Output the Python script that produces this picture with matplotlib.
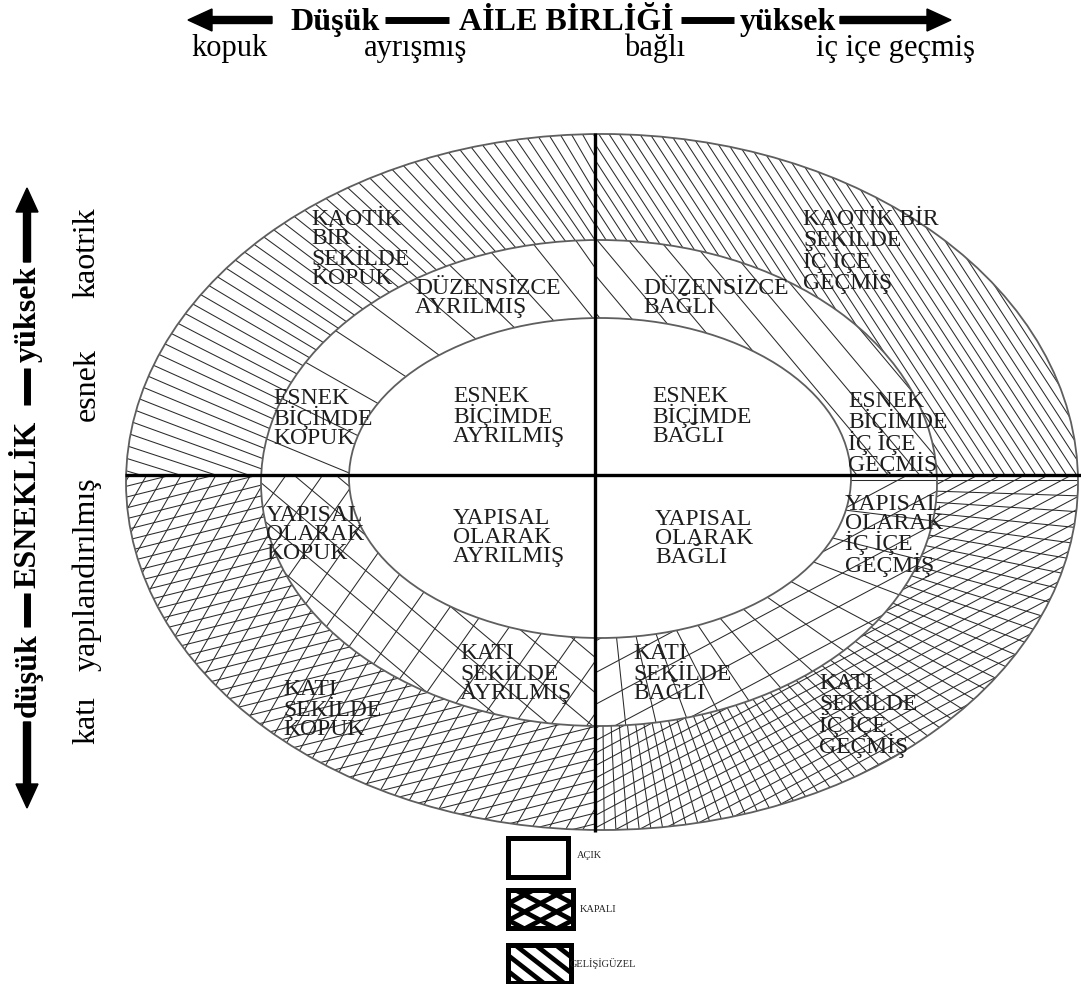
import numpy as np
import matplotlib
matplotlib.use('Agg')
import matplotlib.pyplot as plt
from matplotlib.patches import Ellipse, Rectangle, FancyArrow, PathPatch
from matplotlib.collections import LineCollection
from matplotlib.path import Path
from matplotlib.transforms import Bbox, TransformedBbox

# ---------------- data ----------------
cohesion_levels = ['kopuk', 'ayrışmış', 'bağlı', 'iç içe geçmiş']
flexibility_levels = ['kaotrik', 'esnek', 'yapılandırılmış', 'katı']   # top -> bottom
cohesion_title = ['Düşük', 'AİLE BİRLİĞİ', 'yüksek']
flexibility_title = ['yüksek', 'ESNEKLİK', 'düşük']                  # top -> bottom
cell_labels = [
    ['KAOTİK\nBİR\nŞEKİLDE\nKOPUK', 'DÜZENSİZCE\nAYRILMIŞ', 'DÜZENSİZCE\nBAĞLI', 'KAOTİK BİR\nŞEKİLDE\nİÇ İÇE\nGEÇMİŞ'],
    ['ESNEK\nBİÇİMDE\nKOPUK', 'ESNEK\nBİÇİMDE\nAYRILMIŞ', 'ESNEK\nBİÇİMDE\nBAĞLI', 'ESNEK\nBİÇİMDE\nİÇ İÇE\nGEÇMİŞ'],
    ['YAPISAL\nOLARAK\nKOPUK', 'YAPISAL\nOLARAK\nAYRILMIŞ', 'YAPISAL\nOLARAK\nBAĞLI', 'YAPISAL\nOLARAK\nİÇ İÇE\nGEÇMİŞ'],
    ['KATI\nŞEKİLDE\nKOPUK', 'KATI\nŞEKİLDE\nAYRILMIŞ', 'KATI\nŞEKİLDE\nBAĞLI', 'KATI\nŞEKİLDE\nİÇ İÇE\nGEÇMİŞ'],
]
legend_labels = ['AÇIK', 'KAPALI', 'GELİŞİGÜZEL']

# ---------------- layout (pixels) ----------------
W, H = 1081, 984
VX, HY = 595, 475
outer = (602, 482, 476, 348)
middle = (599, 483, 338, 243)
inner = (600, 478, 251, 160)
cell_pos = [
    [(311, 209), (415, 278), (643, 278), (803, 209)],
    [(273, 388), (453, 386), (652, 386), (848, 391)],
    [(266, 505), (453, 508), (655, 509), (845, 494)],
    [(283, 679), (460, 643), (633, 643), (819, 673)],
]
coh_x = [230, 416, 655, 895]
flex_y = [253, 385, 574, 720]
title_x = [335, 566, 788]
ftitle_y = [314, 504, 675]

SERIF = ['Liberation Serif', 'DejaVu Serif']
plt.rcParams['font.family'] = SERIF

fig = plt.figure(figsize=(W / 100, H / 100), dpi=100)
ax = fig.add_axes([0, 0, 1, 1])
ax.set_xlim(0, W)
ax.set_ylim(H, 0)
ax.axis('off')


def ell_pts(cx, cy, a, b, n=500):
    t = np.linspace(0, 2 * np.pi, n)
    return np.c_[cx + a * np.cos(t), cy + b * np.sin(t)]


def ring_path(out_e, in_e):
    o = ell_pts(*out_e)
    i = ell_pts(*in_e)[::-1]
    verts = np.concatenate([o, i])
    codes = np.full(len(verts), Path.LINETO)
    codes[0] = Path.MOVETO
    codes[len(o)] = Path.MOVETO
    return Path(verts, codes)


def parallel(angle, spacing, cx=600, cy=480, L=1400):
    a = np.deg2rad(angle)
    d = np.array([np.cos(a), np.sin(a)])
    n = np.array([-d[1], d[0]])
    segs = []
    for k in np.arange(-L, L, spacing):
        p = np.array([cx, cy]) + k * n
        segs.append([p - L * d, p + L * d])
    return segs


def radial(fx, fy, a0, a1, step, L=1400):
    segs = []
    for t in np.deg2rad(np.arange(a0, a1, step)):
        segs.append([(fx, fy), (fx + L * np.cos(t), fy + L * np.sin(t))])
    return segs


def add_hatch(segs, path, quad, lw=0.75, color='#2a2a2a'):
    lc = LineCollection(segs, colors=color, linewidths=lw, zorder=2)
    ax.add_collection(lc, autolim=False)
    lc.set_clip_path(PathPatch(path, transform=ax.transData))
    lc.set_clip_box(TransformedBbox(Bbox.from_extents(*quad), ax.transData))


outer_ring = ring_path(outer, middle)
mid_ring = ring_path(middle, inner)
TL = (0, 0, VX, HY)
TR = (VX, 0, W, HY)
BL = (0, HY, VX, H)
BR = (VX, HY, W, H)

# top-left
add_hatch(radial(900, 700, -172, -104, 0.85), outer_ring, TL)
add_hatch(radial(900, 700, -172, -104, 3.6), mid_ring, TL)
# top-right
add_hatch(parallel(57, 8.6), outer_ring, TR)
add_hatch(parallel(50, 24), mid_ring, TR)
# bottom-left
add_hatch(parallel(-14, 10.5), outer_ring, BL)
add_hatch(parallel(-60, 15), outer_ring, BL)
add_hatch(parallel(40, 27), mid_ring, BL)
add_hatch(parallel(-55, 30), mid_ring, BL)
# bottom-right
add_hatch(parallel(-28, 11), outer_ring, BR)
add_hatch(radial(600, 480, 0, 91, 1.9), outer_ring, BR)
add_hatch(parallel(-28, 28), mid_ring, BR)
add_hatch(radial(600, 480, 0, 91, 7), mid_ring, BR)

# ellipse outlines
for (cx, cy, a, b) in (outer, middle, inner):
    ax.add_patch(Ellipse((cx, cy), 2 * a, 2 * b, fill=False, ec='#5e5e5e', lw=1.3, zorder=3))

# axis lines
ax.plot([VX, VX], [133, 832], color='black', lw=2.4, solid_capstyle='butt', zorder=4)
ax.plot([125, W], [HY, HY], color='black', lw=2.4, solid_capstyle='butt', zorder=4)

# cell labels
for r in range(4):
    for c in range(4):
        x, y = cell_pos[r][c]
        ax.text(x, y, cell_labels[r][c], ha='left', va='top', fontsize=17, linespacing=0.86,
                color='#1e1e1e', zorder=5)

# ---- top header ----
ay = 20
ax.add_patch(FancyArrow(272, ay, -60, 0, width=7, head_width=22, head_length=24, color='black', zorder=5))
ax.add_patch(FancyArrow(840, ay, 87, 0, width=7, head_width=22, head_length=24, color='black', zorder=5))
for x0, x1 in [(385, 449), (681, 734)]:
    ax.plot([x0, x1], [ay, ay], color='black', lw=5, solid_capstyle='butt', zorder=5)
for x, t in zip(title_x, cohesion_title):
    ax.text(x, 30, t, ha='center', va='baseline', fontsize=23, fontweight='bold', color='black')
for x, t in zip(coh_x, cohesion_levels):
    ax.text(x, 56, t, ha='center', va='baseline', fontsize=22, color='black')

# ---- left header ----
lx = 27
ax.add_patch(FancyArrow(lx, 262, 0, -50, width=7, head_width=22, head_length=24, color='black', zorder=5))
ax.add_patch(FancyArrow(lx, 722, 0, 62, width=7, head_width=22, head_length=24, color='black', zorder=5))
for y0, y1 in [(368, 405), (593, 627)]:
    ax.plot([lx, lx], [y0, y1], color='black', lw=5, solid_capstyle='butt', zorder=5)
for y, t in zip(ftitle_y, flexibility_title):
    ax.text(lx + 1, y, t, ha='center', va='center', rotation=90, fontsize=23, fontweight='bold', color='black')
for y, t in zip(flex_y, flexibility_levels):
    ax.text(87, y, t, ha='center', va='center', rotation=90, fontsize=23, color='black')

# ---- legend ----
lg_boxes = [(508, 838, 60, 39), (508, 890, 65, 38), (508, 945, 63, 38)]
lg_text = [(577, 855), (580, 909), (570, 964)]
for i, (x, y, w, h) in enumerate(lg_boxes):
    rect = Rectangle((x, y), w, h, fc='white', ec='black', lw=3.6, zorder=6)
    ax.add_patch(rect)
    if i > 0:
        box = Path([(x, y), (x + w, y), (x + w, y + h), (x, y + h), (x, y)], closed=True)
        if i == 1:
            segs = parallel(28, 15, x + w / 2, y + h / 2, 200) + parallel(-28, 15, x + w / 2, y + h / 2, 200)
        else:
            segs = parallel(38, 12.5, x + w / 2, y + h / 2, 200)
        lc = LineCollection(segs, colors='black', linewidths=3.4, zorder=6.5)
        ax.add_collection(lc, autolim=False)
        lc.set_clip_path(PathPatch(box, transform=ax.transData))
        ax.add_patch(Rectangle((x, y), w, h, fc='none', ec='black', lw=3.6, zorder=7))
for (x, y), t in zip(lg_text, legend_labels):
    ax.text(x, y, t, ha='left', va='center', fontsize=7.5, color='#222222', zorder=8)

fig.savefig('out.png', dpi=100)
